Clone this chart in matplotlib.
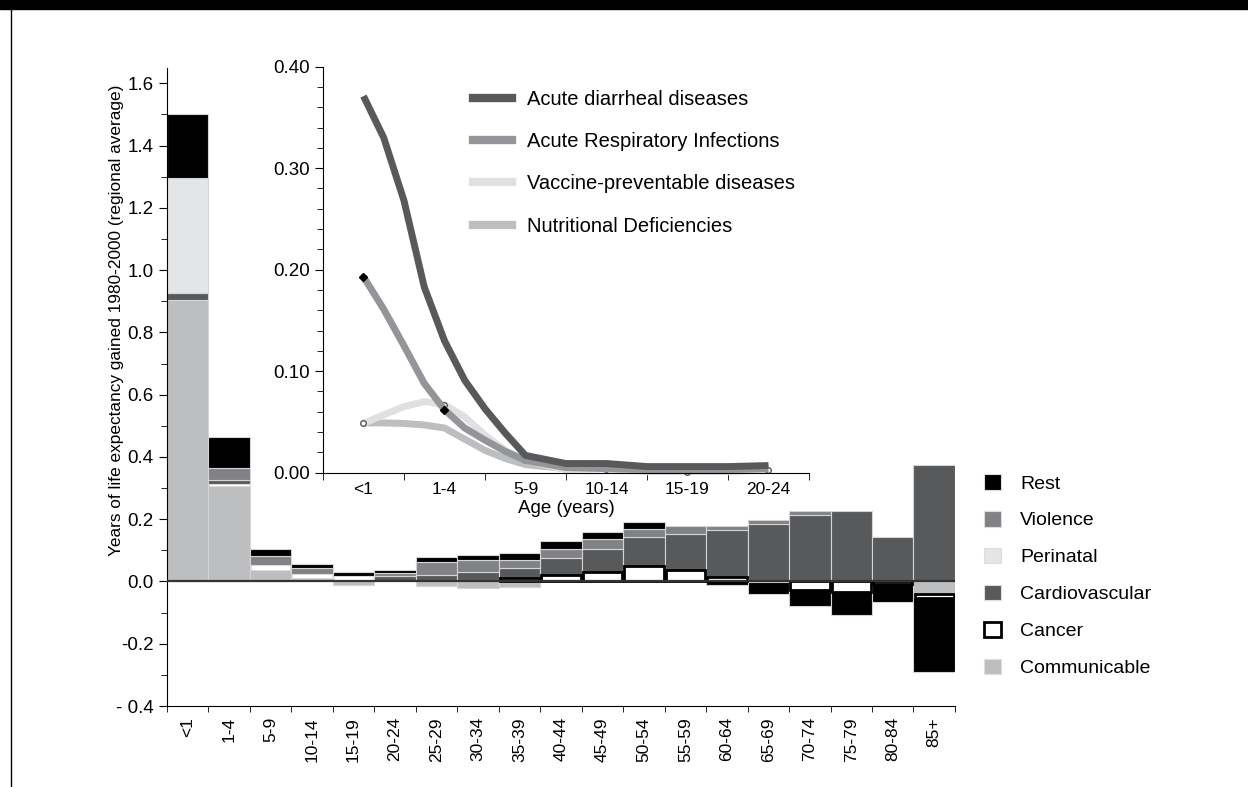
import numpy as np
import matplotlib.pyplot as plt
from matplotlib.patches import Patch, Rectangle
from matplotlib.lines import Line2D

plt.rcParams['font.family'] = ['Liberation Sans', 'DejaVu Sans']

# age groups of the main chart
ages = ['<1', '1-4', '5-9', '10-14', '15-19', '20-24', '25-29', '30-34', '35-39',
        '40-44', '45-49', '50-54', '55-59', '60-64', '65-69', '70-74', '75-79',
        '80-84', '85+']

# years gained by cause (stacked from the zero line outwards)
communicable = [0.905, 0.307, 0.037, 0.012, -0.010, 0.000, -0.015, -0.022, -0.017, 0.000,
                0.000, 0.000, 0.000, 0.000, -0.003, 0.000, 0.000, 0.000, -0.041]
cancer = [0.000, 0.005, 0.015, 0.013, 0.019, 0.000, 0.000, 0.006, 0.012, 0.022,
          0.032, 0.049, 0.037, 0.013, 0.000, -0.027, -0.034, -0.007, -0.012]
cardiovascular = [0.020, 0.013, 0.000, 0.000, 0.000, 0.016, 0.020, 0.026, 0.032, 0.054,
                  0.072, 0.093, 0.115, 0.152, 0.184, 0.213, 0.227, 0.142, 0.374]
perinatal = [0.370, 0.000, 0.000, 0.000, 0.000, 0.000, 0.000, 0.000, 0.000, 0.000,
             0.000, 0.000, 0.000, 0.000, 0.000, 0.000, 0.000, 0.000, 0.000]
violence = [0.000, 0.038, 0.031, 0.019, 0.000, 0.011, 0.044, 0.037, 0.025, 0.028,
            0.033, 0.026, 0.027, 0.012, 0.013, 0.014, 0.000, 0.000, 0.000]
rest = [0.205, 0.101, 0.021, 0.011, 0.012, 0.009, 0.016, 0.017, 0.024, 0.025,
        0.023, 0.022, 0.000, -0.011, -0.038, -0.053, -0.074, -0.058, -0.237]

# inset: communicable causes for young ages
inset_ages = ['<1', '1-4', '5-9', '10-14', '15-19', '20-24']
inset_x = [0, 0.25, 0.5, 0.75, 1, 1.25, 1.5, 1.75, 2, 2.5, 3, 3.5, 4, 4.5, 5]
diarrheal = [0.371, 0.330, 0.268, 0.183, 0.130, 0.091, 0.063, 0.039, 0.017, 0.009,
             0.009, 0.006, 0.006, 0.006, 0.007]
respiratory = [0.193, 0.161, 0.125, 0.088, 0.062, 0.044, 0.032, 0.021, 0.012, 0.005,
               0.004, 0.003, 0.002, 0.003, 0.004]
vaccine = [0.0485, 0.057, 0.065, 0.070, 0.067, 0.055, 0.037, 0.022, 0.012, 0.003,
           0.004, 0.001, 0.001, 0.001, 0.003]
nutritional = [0.049, 0.049, 0.0485, 0.047, 0.044, 0.033, 0.022, 0.014, 0.008, 0.004,
               0.004, 0.004, 0.004, 0.004, 0.005]

fig = plt.figure(figsize=(12.48, 7.87), dpi=100)

# frame decoration of the original page
fig.patches.append(Rectangle((0, 1 - 9 / 787), 1, 9 / 787, transform=fig.transFigure,
                             color='black', zorder=0))
fig.add_artist(Line2D([11 / 1248, 11 / 1248], [0, 1 - 9 / 787], transform=fig.transFigure,
                      color='black', lw=1))

ax = fig.add_axes([0.1338, 0.1029, 0.6314, 0.811])

x = np.arange(len(ages))
series = [
    (communicable, '#bcbec0', 'Communicable'),
    (cancer, 'white', 'Cancer'),
    (cardiovascular, '#58595b', 'Cardiovascular'),
    (perinatal, '#e4e5e6', 'Perinatal'),
    (violence, '#818285', 'Violence'),
    (rest, '#000000', 'Rest'),
]

pos_bottom = np.zeros(len(ages))
neg_bottom = np.zeros(len(ages))
for vals, col, name in series:
    v = np.array(vals)
    for sign in (1, -1):
        m = (v * sign) > 0
        if not m.any():
            continue
        base = pos_bottom if sign > 0 else neg_bottom
        if name == 'Cancer':
            ec = ['black' if i >= 8 else '#d9d9d9' for i in x[m]]
            lw = [2.0 if i >= 8 else 0.6 for i in x[m]]
            ax.bar(x[m], v[m], bottom=base[m], width=0.95, color=col, edgecolor=ec,
                   linewidth=lw, zorder=2.5)
        else:
            ax.bar(x[m], v[m], bottom=base[m], width=1.0, color=col, edgecolor='#d4d4d4',
                   linewidth=0.8, zorder=2)
        base[m] += v[m]

ax.axhline(0, color='#333333', lw=1.6, zorder=3)

ax.set_xlim(-0.5, len(ages) - 0.5)
ax.set_ylim(-0.4, 1.65)
ax.set_xticks(x)
ax.set_xticklabels(ages, rotation=90, fontsize=12.5)
ax.set_xticks(np.arange(-0.5, len(ages)), minor=True)
ax.tick_params(axis='x', which='major', length=0, pad=8)
ax.tick_params(axis='x', which='minor', length=4)
yt = [-0.4, -0.2, 0.0, 0.2, 0.4, 0.6, 0.8, 1.0, 1.2, 1.4, 1.6]
ax.set_yticks(yt)
ax.set_yticklabels(['- 0.4' if t == -0.4 else f'{t:.1f}' for t in yt], fontsize=13.5)
ax.set_yticks(np.arange(-0.3, 1.6, 0.2), minor=True)
ax.tick_params(axis='y', which='major', length=6)
ax.tick_params(axis='y', which='minor', length=4)
for s in ['top', 'right']:
    ax.spines[s].set_visible(False)
ax.set_ylabel('Years of life expectancy gained 1980-2000 (regional average)', fontsize=12.4)
ax.yaxis.set_label_coords(-0.054, 0.605)

handles = [Patch(facecolor=c, edgecolor=('black' if n == 'Cancer' else '#dddddd'),
                 linewidth=(2 if n == 'Cancer' else 0.8), label=n)
           for _, c, n in series[::-1]]
fig.legend(handles=handles, loc='upper left', bbox_to_anchor=(0.781, 0.41),
           frameon=False, fontsize=14, handlelength=0.85, handleheight=0.85,
           labelspacing=0.95, handletextpad=1.0, borderpad=0)

# inset
ai = fig.add_axes([0.2588, 0.3994, 0.3894, 0.5159])
ix = np.array(inset_x)
marks = list(np.flatnonzero(np.mod(ix, 1) == 0))
ai.plot(ix, nutritional, color='#bcbec0', lw=5, solid_capstyle='butt', clip_on=False,
        label='Nutritional Deficiencies')
ai.plot(ix, vaccine, color='#dfe0e1', lw=5, solid_capstyle='butt', clip_on=False,
        marker='o', markevery=marks, ms=4, mfc='white', mec='#555555', mew=1,
        label='Vaccine-preventable diseases')
ai.plot(ix, respiratory, color='#939598', lw=5, solid_capstyle='butt', clip_on=False,
        marker='D', markevery=marks[:2], ms=4, mfc='black', mec='black',
        label='Acute Respiratory Infections')
ai.plot(ix, diarrheal, color='#58595b', lw=5, solid_capstyle='butt', clip_on=False,
        label='Acute diarrheal diseases')
ai.set_xlim(-0.5, 5.5)
ai.set_ylim(0, 0.40)
ai.set_xticks(range(len(inset_ages)))
ai.set_xticklabels(inset_ages, fontsize=12.5)
ai.set_xticks(np.arange(-0.5, 5.6, 1), minor=True)
ai.tick_params(axis='x', which='major', length=0, pad=7)
ai.tick_params(axis='x', which='minor', length=5)
ai.set_yticks([0, 0.1, 0.2, 0.3, 0.4])
ai.set_yticklabels(['0.00', '0.10', '0.20', '0.30', '0.40'], fontsize=13.5)
ai.set_yticks(np.arange(0.02, 0.40, 0.02), minor=True)
ai.tick_params(axis='y', which='major', length=6)
ai.tick_params(axis='y', which='minor', length=4)
ai.patch.set_alpha(0)
for s in ['top', 'right']:
    ai.spines[s].set_visible(False)
ai.set_xlabel('Age (years)', fontsize=13.5, labelpad=2)

h, l = ai.get_legend_handles_labels()
leg_handles = [Line2D([0], [0], color=hh.get_color(), lw=6) for hh in h[::-1]]
ai.legend(leg_handles, l[::-1], loc='upper left', bbox_to_anchor=(0.287, 0.967),
          frameon=False, fontsize=14.5, handlelength=1.95, labelspacing=1.15,
          handletextpad=0.75, borderpad=0)

fig.savefig('out.png', dpi=100)
